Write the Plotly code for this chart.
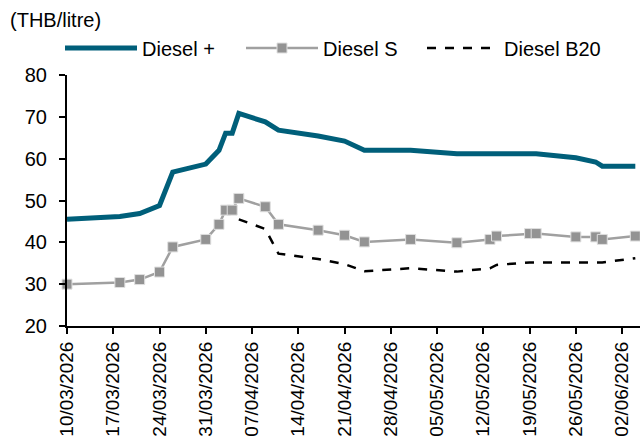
import plotly.graph_objects as go

# ---- data ----
plus_dates = ["2026-03-10", "2026-03-18", "2026-03-21", "2026-03-24", "2026-03-26",
              "2026-03-31", "2026-04-02", "2026-04-03", "2026-04-04", "2026-04-05",
              "2026-04-09", "2026-04-11", "2026-04-17", "2026-04-21", "2026-04-24",
              "2026-05-01", "2026-05-08", "2026-05-20", "2026-05-26", "2026-05-29",
              "2026-05-30", "2026-06-04"]
plus_values = [45.5, 46.2, 46.9, 48.8, 56.8,
               58.7, 62.0, 66.1, 66.1, 70.8,
               68.8, 66.8, 65.4, 64.2, 62.0,
               62.0, 61.2, 61.2, 60.2, 59.2,
               58.2, 58.2]

s_dates = ["2026-03-10", "2026-03-18", "2026-03-21", "2026-03-24", "2026-03-26",
           "2026-03-31", "2026-04-02", "2026-04-03", "2026-04-04", "2026-04-05",
           "2026-04-09", "2026-04-11", "2026-04-17", "2026-04-21", "2026-04-24",
           "2026-05-01", "2026-05-08", "2026-05-13", "2026-05-14", "2026-05-19",
           "2026-05-20", "2026-05-26", "2026-05-29", "2026-05-30", "2026-06-04"]
s_values = [30.0, 30.4, 31.1, 32.9, 38.9,
            40.7, 44.3, 47.7, 47.7, 50.5,
            48.5, 44.3, 42.9, 41.7, 40.1,
            40.7, 39.9, 40.7, 41.5, 42.1,
            42.1, 41.3, 41.3, 40.7, 41.5]

b20_dates = ["2026-04-05", "2026-04-09", "2026-04-11", "2026-04-17", "2026-04-21",
             "2026-04-24", "2026-05-01", "2026-05-08", "2026-05-13", "2026-05-14",
             "2026-05-19", "2026-05-26", "2026-05-30", "2026-06-04"]
b20_values = [45.5, 43.2, 37.3, 36.0, 34.8,
              33.1, 33.8, 33.0, 33.8, 34.6,
              35.2, 35.2, 35.2, 36.2]

tick_dates = ["2026-03-10", "2026-03-17", "2026-03-24", "2026-03-31", "2026-04-07",
              "2026-04-14", "2026-04-21", "2026-04-28", "2026-05-05", "2026-05-12",
              "2026-05-19", "2026-05-26", "2026-06-02"]
tick_labels = ["10/03/2026", "17/03/2026", "24/03/2026", "31/03/2026", "07/04/2026",
               "14/04/2026", "21/04/2026", "28/04/2026", "05/05/2026", "12/05/2026",
               "19/05/2026", "26/05/2026", "02/06/2026"]

FONT = "Liberation Sans, Arial, sans-serif"
FS = 20

fig = go.Figure()
fig.add_trace(go.Scatter(
    x=plus_dates, y=plus_values, name="Diesel +", mode="lines",
    line=dict(color="#005F7A", width=5), cliponaxis=False))
fig.add_trace(go.Scatter(
    x=s_dates, y=s_values, name="Diesel S", mode="lines+markers",
    line=dict(color="#A0A0A0", width=2.5),
    marker=dict(symbol="square", size=10, color="#939393",
                line=dict(color="#E0E0E0", width=1)), cliponaxis=False))
fig.add_trace(go.Scatter(
    x=b20_dates, y=b20_values, name="Diesel B20", mode="lines",
    line=dict(color="#000000", width=2.5, dash="dash"), cliponaxis=False))

fig.update_layout(
    width=640, height=439,
    margin=dict(l=67, r=0, t=75, b=113, autoexpand=False),
    paper_bgcolor="white", plot_bgcolor="white",
    font=dict(family=FONT, size=FS, color="#000000"),
    legend=dict(orientation="h", x=60/640, xref="container", xanchor="left",
                y=1-48/439, yref="container", yanchor="middle",
                font=dict(family=FONT, size=FS),
                entrywidth=94, entrywidthmode="pixels",
                bgcolor="rgba(0,0,0,0)", itemwidth=72,
                tracegroupgap=0),
    showlegend=True,
)
fig.add_annotation(text="(THB/litre)", xref="paper", yref="paper",
                   x=(8 - 67) / 573, y=1 + (75 - 20) / 251,
                   xanchor="left", yanchor="middle", showarrow=False,
                   font=dict(family=FONT, size=FS, color="black"))

fig.update_xaxes(
    type="date", range=["2026-03-10", "2026-06-04T17:00"],
    tickvals=tick_dates, ticktext=tick_labels, tickangle=-90,
    ticks="outside", ticklen=6, tickwidth=2, tickcolor="black",
    showline=True, linecolor="black", linewidth=2,
    showgrid=False, zeroline=False, automargin=False,
    tickfont=dict(family=FONT, size=19, color="black"))
fig.update_yaxes(
    range=[20, 80], dtick=10, tick0=20,
    ticks="outside", ticklen=6, tickwidth=2, tickcolor="black",
    showline=True, linecolor="black", linewidth=2,
    showgrid=False, zeroline=False, automargin=False,
    ticklabelstandoff=8,
    tickfont=dict(family=FONT, size=FS, color="black"))

fig.write_html("out.html", config={"displayModeBar": False},
               post_script="document.body.style.margin='0';")
